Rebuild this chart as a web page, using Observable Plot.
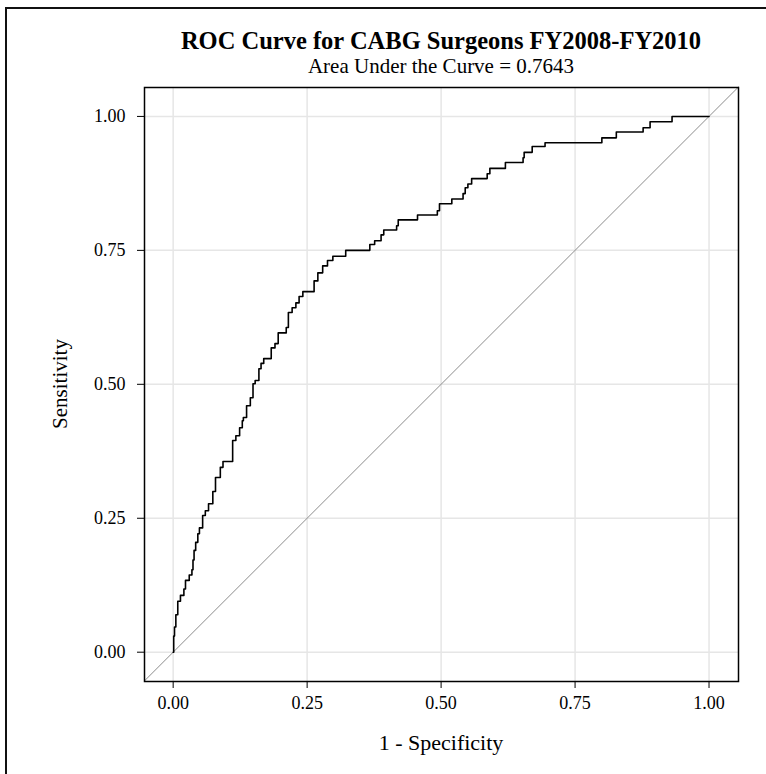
<!DOCTYPE html>
<html>
<head>
<meta charset="utf-8">
<script src="https://cdn.jsdelivr.net/npm/d3@7"></script>
<script src="https://cdn.jsdelivr.net/npm/@observablehq/plot@0.6"></script>
<style>
  html, body { margin: 0; padding: 0; background: #fff; }
  #wrap { position: relative; width: 766px; height: 774px; overflow: hidden; font-family: "Liberation Serif", "Times New Roman", serif; }
  #border { position: absolute; left: 5px; top: 7px; width: 900px; height: 900px; border: 2px solid #111; box-sizing: border-box; }
  #title { position: absolute; left: 144px; width: 594px; top: 29px; text-align: center; font-weight: bold; font-size: 24.5px; line-height: 1; color: #000; white-space: nowrap; }
  #subtitle { position: absolute; left: 144px; width: 594px; top: 56px; text-align: center; font-size: 21px; line-height: 1; color: #000; white-space: nowrap; }
  #plot { position: absolute; left: 0; top: 0; }
</style>
</head>
<body>
<div id="wrap">
  <div id="plot"></div>
  <div id="border"></div>
  <div id="title">ROC Curve for CABG Surgeons FY2008-FY2010</div>
  <div id="subtitle">Area Under the Curve = 0.7643</div>
</div>
<script>
// ROC curve corner points (1 - specificity, sensitivity)
const fpr = [0.000, 0.001, 0.0025, 0.005, 0.0086, 0.0136, 0.020, 0.023, 0.030, 0.035,
  0.037, 0.039, 0.042, 0.046, 0.049, 0.055, 0.060, 0.066, 0.074, 0.079,
  0.088, 0.093, 0.111, 0.117, 0.124, 0.129, 0.131, 0.137, 0.144, 0.149,
  0.153, 0.160, 0.164, 0.169, 0.183, 0.190, 0.196, 0.211, 0.215, 0.222,
  0.229, 0.235, 0.242, 0.263, 0.270, 0.279, 0.288, 0.298, 0.322, 0.367,
  0.376, 0.388, 0.393, 0.417, 0.420, 0.456, 0.493, 0.497, 0.520, 0.541,
  0.545, 0.550, 0.557, 0.586, 0.591, 0.620, 0.653, 0.655, 0.670, 0.694,
  0.800, 0.827, 0.877, 0.890, 0.931, 1.000];
const tpr = [0.000, 0.030, 0.047, 0.070, 0.095, 0.106, 0.118, 0.134, 0.144, 0.154,
  0.172, 0.190, 0.205, 0.221, 0.232, 0.255, 0.264, 0.277, 0.300, 0.326,
  0.345, 0.356, 0.395, 0.404, 0.419, 0.432, 0.438, 0.460, 0.475, 0.501,
  0.507, 0.529, 0.539, 0.548, 0.568, 0.576, 0.596, 0.606, 0.634, 0.643,
  0.652, 0.664, 0.673, 0.693, 0.708, 0.721, 0.731, 0.739, 0.750, 0.761,
  0.768, 0.779, 0.788, 0.796, 0.807, 0.816, 0.824, 0.837, 0.846, 0.856,
  0.867, 0.874, 0.884, 0.893, 0.903, 0.914, 0.923, 0.933, 0.944, 0.951,
  0.960, 0.971, 0.979, 0.990, 1.000, 1.000];
const tickValues = [0, 0.25, 0.5, 0.75, 1];
const tickLabels = ["0.00", "0.25", "0.50", "0.75", "1.00"];
const xDomain = [-0.0535, 1.055];
const yDomain = [-0.0547, 1.054];
const xLabel = "1 - Specificity";
const yLabel = "Sensitivity";

const roc = fpr.map((x, i) => ({x, y: tpr[i]}));
const diag = xDomain.map(v => ({x: v, y: v}));

const chart = Plot.plot({
  width: 766,
  height: 774,
  marginTop: 87,
  marginBottom: 93,
  marginLeft: 144,
  marginRight: 28,
  style: {fontFamily: "'Liberation Serif', 'Times New Roman', serif", fontSize: "18px", color: "#000", background: "#fff"},
  x: {domain: xDomain, ticks: tickValues, tickFormat: (d) => tickLabels[tickValues.indexOf(d)], tickSize: 7, tickPadding: 8, label: null},
  y: {domain: yDomain, ticks: tickValues, tickFormat: (d) => tickLabels[tickValues.indexOf(d)], tickSize: 7, tickPadding: 12, label: null},
  marks: [
    Plot.ruleX(tickValues, {stroke: "#e6e6e6", strokeWidth: 1.5}),
    Plot.ruleY(tickValues, {stroke: "#e6e6e6", strokeWidth: 1.5}),
    Plot.line(diag, {x: "x", y: "y", stroke: "#8c8c8c", strokeWidth: 1}),
    Plot.line(roc, {x: "x", y: "y", curve: "step-after", stroke: "#000", strokeWidth: 1.6}),
    Plot.frame({stroke: "#000", strokeWidth: 1.5})
  ]
});
// axis titles
const svg = d3.select(chart);
svg.append("text").attr("x", 441).attr("y", 750).attr("text-anchor", "middle")
  .style("font-size", "22px").text(xLabel);
svg.append("text").attr("transform", "translate(67,384) rotate(-90)").attr("text-anchor", "middle")
  .style("font-size", "21px").text(yLabel);
document.getElementById("plot").appendChild(chart);
</script>
</body>
</html>
